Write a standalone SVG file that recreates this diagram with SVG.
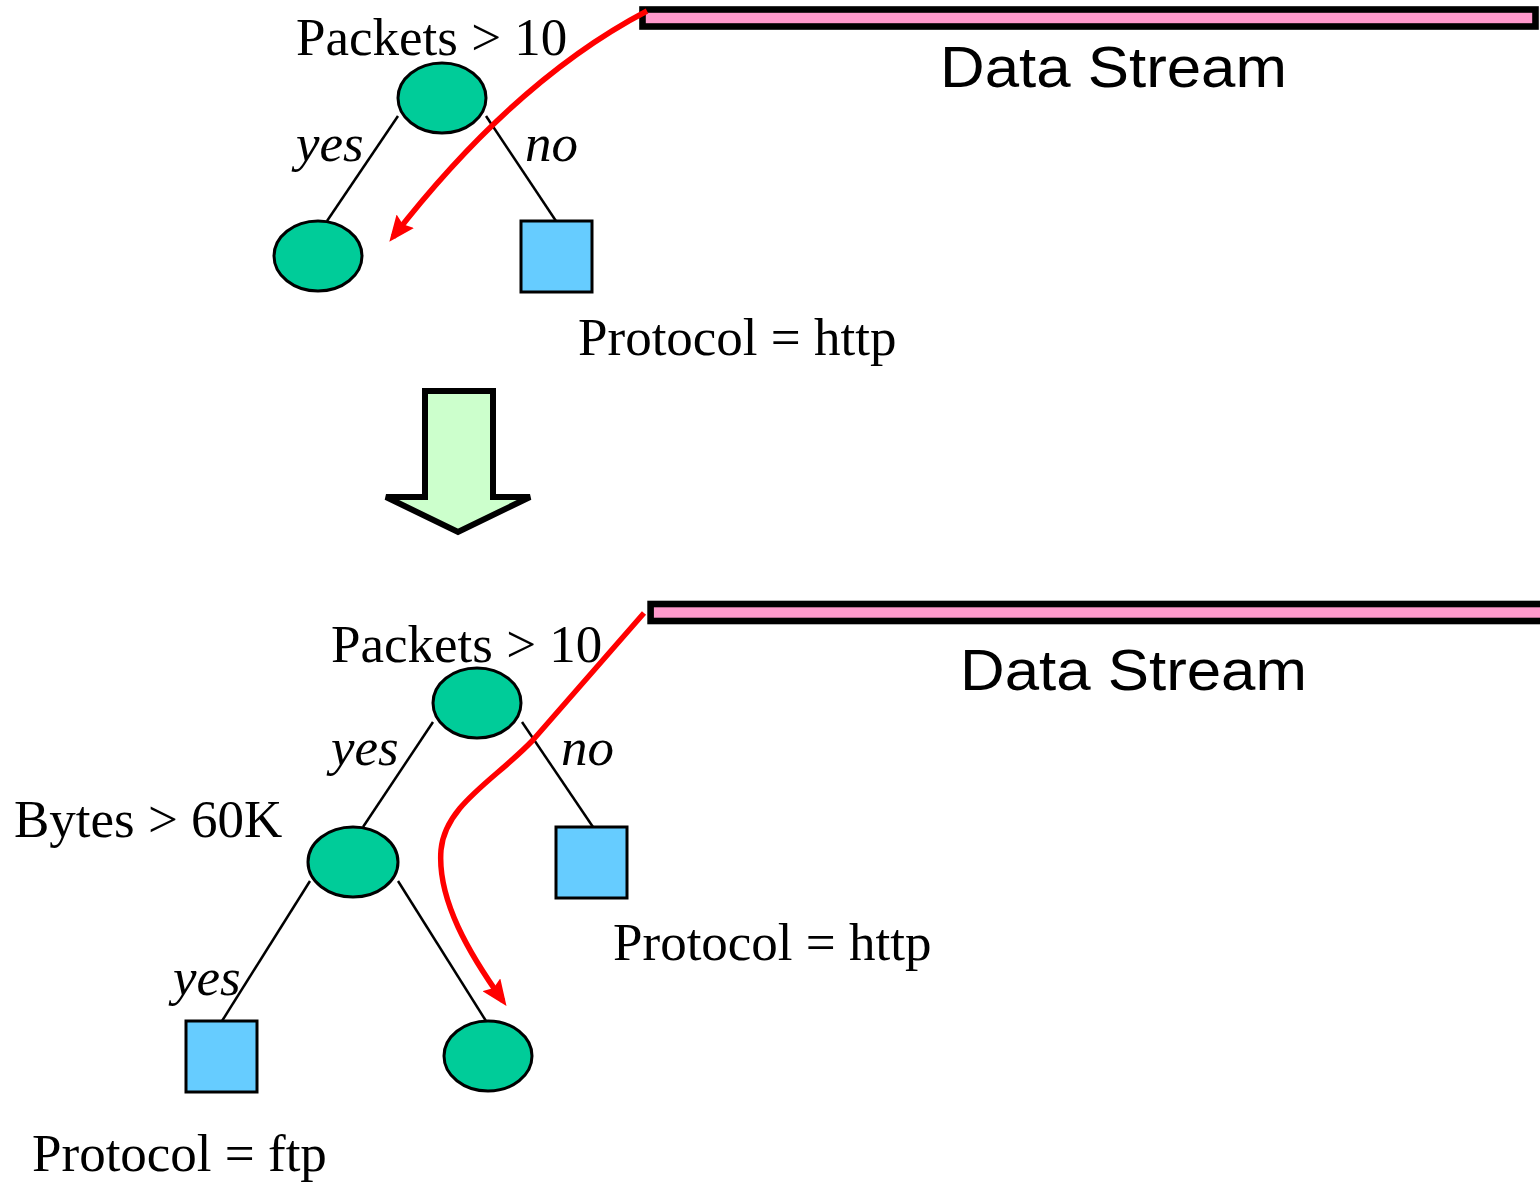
<svg xmlns="http://www.w3.org/2000/svg" width="1540" height="1184" viewBox="0 0 1540 1184">
<style>
.lbl{font-family:"Liberation Serif","Times New Roman",serif;font-size:53px;fill:#000}
.it{font-style:italic}
.ds{font-family:"Liberation Sans",Arial,sans-serif;font-size:58px;fill:#000}
.dec{fill:#00cc99;stroke:#000;stroke-width:3}
.leaf{fill:#66ccff;stroke:#000;stroke-width:3}
.edge{stroke:#000;stroke-width:2.5;fill:none}
.bar{fill:#ff99cc;stroke:#000;stroke-width:6.6}
.flow{stroke:#ff0000;stroke-width:5.5;fill:none;marker-end:url(#ah)}
</style>
<defs>
<marker id="ah" viewBox="0 0 26 22" refX="20" refY="11" markerWidth="26" markerHeight="22" markerUnits="userSpaceOnUse" orient="auto">
<path d="M0,0 L26,11 L0,22 L4,11 z" fill="#ff0000"/>
</marker>
</defs>
<rect width="1540" height="1184" fill="#fff"/>

<g id="stream-top">
<rect class="bar" x="642.5" y="9.5" width="893" height="17"/>
<text class="ds" x="940" y="87" textLength="347" lengthAdjust="spacingAndGlyphs">Data Stream</text>
</g>
<g id="stream-bottom">
<rect class="bar" x="650.6" y="604" width="900" height="17"/>
<text class="ds" x="960" y="690" textLength="347" lengthAdjust="spacingAndGlyphs">Data Stream</text>
</g>

<g id="connectors">
<line class="edge" x1="398" y1="116" x2="327" y2="221"/>
<line class="edge" x1="486" y1="116" x2="556" y2="221"/>
<line class="edge" x1="433" y1="722" x2="363" y2="827"/>
<line class="edge" x1="522" y1="722" x2="593" y2="827"/>
<line class="edge" x1="310" y1="881" x2="222" y2="1021"/>
<line class="edge" x1="398" y1="881" x2="486" y2="1021"/>
<text class="lbl it" x="296" y="161">yes</text>
<text class="lbl it" x="525" y="161">no</text>
<text class="lbl it" x="331" y="765">yes</text>
<text class="lbl it" x="561" y="765">no</text>
<text class="lbl it" x="173" y="995">yes</text>
</g>

<g id="top-root">
<ellipse class="dec" cx="442" cy="98" rx="44" ry="35"/>
<text class="lbl" x="296" y="55">Packets &gt; 10</text>
</g>
<g id="top-left">
<ellipse class="dec" cx="318" cy="256" rx="44" ry="35"/>
</g>
<g id="top-http">
<rect class="leaf" x="521" y="221" width="71" height="71"/>
<text class="lbl" x="578" y="355">Protocol = http</text>
</g>

<g id="big-arrow">
<polygon points="425,391 493,391 493,497 530,497 458,532 386,497 425,497" fill="#ccffcc" stroke="#000" stroke-width="6" stroke-linejoin="miter"/>
</g>

<g id="bottom-root">
<ellipse class="dec" cx="477" cy="703" rx="44" ry="35"/>
<text class="lbl" x="331" y="662">Packets &gt; 10</text>
</g>
<g id="bottom-bytes">
<ellipse class="dec" cx="353" cy="862" rx="45" ry="35"/>
<text class="lbl" x="14" y="837">Bytes &gt; 60K</text>
</g>
<g id="bottom-http">
<rect class="leaf" x="556" y="827" width="71" height="71"/>
<text class="lbl" x="613" y="960">Protocol = http</text>
</g>
<g id="bottom-ftp">
<rect class="leaf" x="186" y="1021" width="71" height="71"/>
<text class="lbl" x="32" y="1171">Protocol = ftp</text>
</g>
<g id="bottom-right">
<ellipse class="dec" cx="488" cy="1056" rx="44" ry="35"/>
</g>

<g id="flows">
<path class="flow" d="M647,11 Q515,80 393,237"/>
<path class="flow" d="M644,613 L533,740 C495,780 445,805 441,850 C437,900 470,955 503,1001"/>
</g>
</svg>
